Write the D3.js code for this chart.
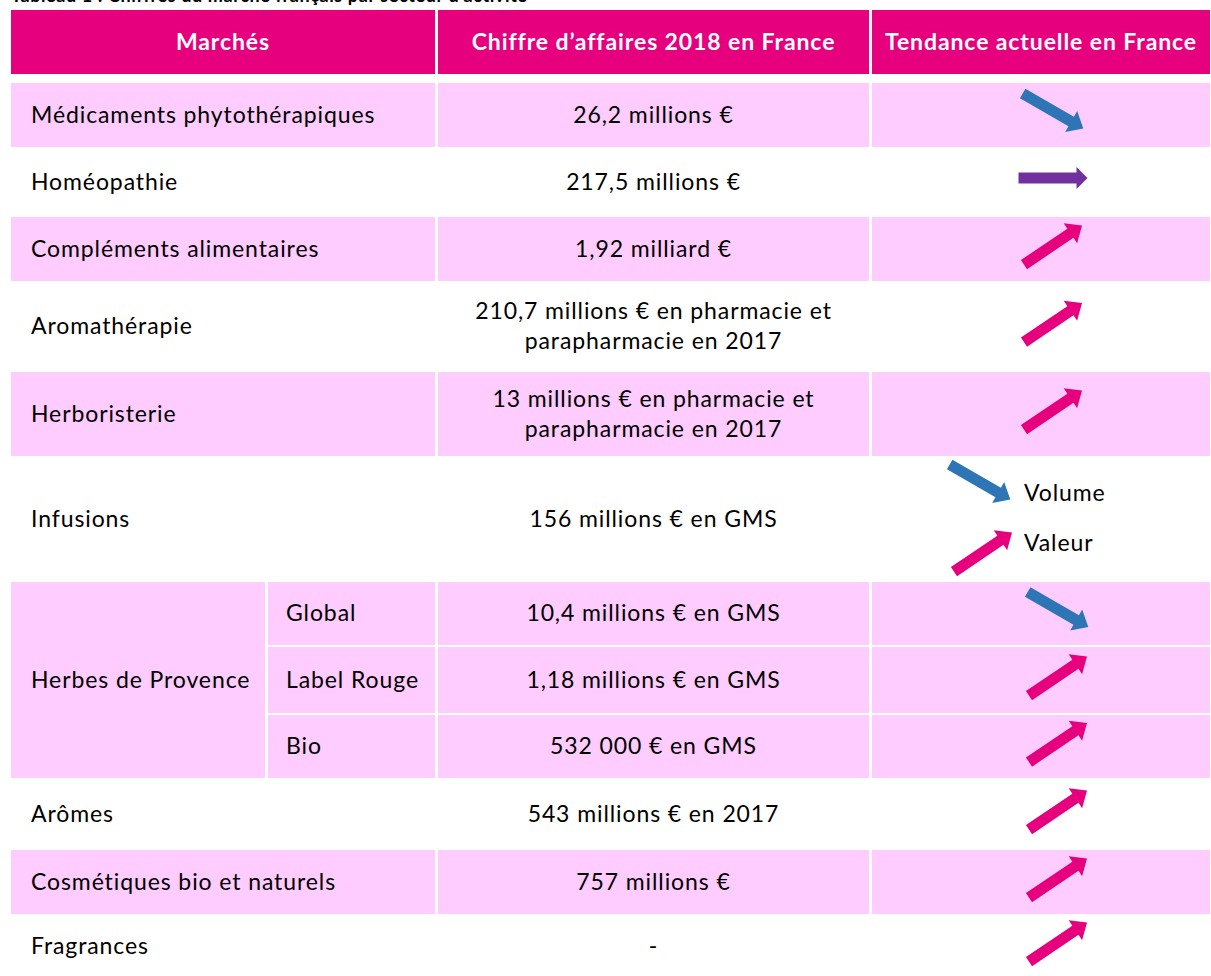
<!DOCTYPE html>
<html>
<head>
<meta charset="utf-8">
<script src="https://cdn.jsdelivr.net/npm/d3@7"></script>
<style>
  body { margin: 0; background: #fff; }
  svg { display: block; }
</style>
</head>
<body>
<script>
var entetes = ["Marchés", "Chiffre d’affaires 2018 en France", "Tendance actuelle en France"];

var marches = [
    "Médicaments phytothérapiques", "Homéopathie", "Compléments alimentaires",
    "Aromathérapie", "Herboristerie", "Infusions",
    "Herbes de Provence", "Herbes de Provence", "Herbes de Provence",
    "Arômes", "Cosmétiques bio et naturels", "Fragrances"
];

var sousMarches = [null, null, null, null, null, null, "Global", "Label Rouge", "Bio", null, null, null];

var chiffres = [
    "26,2 millions €", "217,5 millions €", "1,92 milliard €",
    "210,7 millions € en pharmacie et|parapharmacie en 2017",
    "13 millions € en pharmacie et|parapharmacie en 2017",
    "156 millions € en GMS",
    "10,4 millions € en GMS", "1,18 millions € en GMS", "532 000 € en GMS",
    "543 millions € en 2017", "757 millions €", "-"
];

// baisse / stable / hausse ; Infusions : volume en baisse, valeur en hausse
var tendances = ["baisse", "stable", "hausse", "hausse", "hausse", "volume-valeur",
    "baisse", "hausse", "hausse", "hausse", "hausse", "hausse"];

var titre = "Tableau 1 : Chiffres du marché français par secteur d’activité";

// --- mise en page ---
var W = 1211, H = 976;
var font = "Lato, 'Open Sans', sans-serif";
var rose = "#E6007E", roseClair = "#FFCCFF";
var couleurs = { baisse: "#2E75B6", stable: "#7030A0", hausse: "#E6007E" };
var bandes = [1, 0, 1, 0, 1, 0, 1, 1, 1, 0, 1, 0];

var colX = d3.scaleOrdinal()
    .domain(["marche", "sous", "chiffre", "tendance", "fin"])
    .range([11, 268, 438, 872, 1211]);

var rowY = d3.scaleOrdinal()
    .domain(d3.range(13))
    .range([83, 149, 217, 283, 372, 458, 582, 647, 715, 780, 850, 916, 978]);

var gap = 3, fs = 23, ls = 0.9, cap = 15.6;

var svg = d3.select("body").append("svg")
    .attr("width", W).attr("height", H)
    .style("font-family", font);

// titre (coupé par le bord haut, comme sur l'original)
svg.append("text")
    .attr("x", 11).attr("y", 2)
    .attr("font-size", 18).attr("font-weight", "bold")
    .attr("letter-spacing", 0.6)
    .attr("fill", "#000")
    .text(titre);

// en-tête
var hdrCols = [["marche", "chiffre"], ["chiffre", "tendance"], ["tendance", "fin"]];
var hdr = svg.append("g");
hdrCols.forEach(function (c, i) {
    var x0 = colX(c[0]), x1 = colX(c[1]) - (c[1] === "fin" ? 1 : gap);
    hdr.append("rect")
        .attr("x", x0).attr("y", 10)
        .attr("width", x1 - x0).attr("height", 64)
        .attr("fill", rose);
    hdr.append("text")
        .attr("x", (x0 + x1) / 2).attr("y", 42 + cap / 2)
        .attr("text-anchor", "middle")
        .attr("font-size", fs).attr("font-weight", "bold")
        .attr("letter-spacing", ls)
        .attr("fill", "#fff")
        .text(entetes[i]);
});

// cellules
var body = svg.append("g");

function cell(x0, x1, y0, y1, shaded) {
    if (!shaded) return;
    body.append("rect")
        .attr("x", x0).attr("y", y0)
        .attr("width", x1 - x0).attr("height", y1 - y0)
        .attr("fill", roseClair);
}

function label(txt, x, cy, anchor) {
    var lines = txt.split("|");
    var lh = 30;
    lines.forEach(function (l, k) {
        body.append("text")
            .attr("x", x)
            .attr("y", cy + (k - (lines.length - 1) / 2) * lh + cap / 2)
            .attr("text-anchor", anchor)
            .attr("font-size", fs)
            .attr("letter-spacing", ls)
            .attr("fill", "#000")
            .text(l);
    });
}

function arrowPath(type) {
    // flèche pleine, centrée sur l'origine, pointant vers la droite
    var L = 70, bw = 11, hw = 24, hl = 14;
    if (type === "stable") { L = 69; hw = 22; hl = 11; }
    var a = -L / 2, b = L / 2 - hl, c = L / 2;
    return d3.line()([[a, -bw / 2], [b, -bw / 2], [b, -hw / 2], [c, 0],
        [b, hw / 2], [b, bw / 2], [a, bw / 2]]) + "Z";
}
var angles = { baisse: 30, stable: 0, hausse: -34 };

function arrow(type, cx, cy) {
    body.append("path")
        .attr("d", arrowPath(type))
        .attr("transform", "translate(" + cx + "," + cy + ") rotate(" + angles[type] + ")")
        .attr("fill", couleurs[type]);
}

marches.forEach(function (m, i) {
    var y0 = rowY(i), y1 = rowY(i + 1) - 2, cy = (y0 + y1) / 2;
    var sh = bandes[i];

    if (sousMarches[i] === null) {
        cell(colX("marche"), colX("chiffre") - gap, y0, y1, sh);
        label(m, colX("marche") + 20, cy, "start");
    } else {
        if (i === 0 || marches[i - 1] !== m) {
            var n = marches.filter(function (v, j) { return v === m && sousMarches[j] !== null; }).length;
            var yEnd = rowY(i + n) - 2;
            cell(colX("marche"), colX("sous") - gap, y0, yEnd, sh);
            label(m, colX("marche") + 20, (y0 + yEnd) / 2, "start");
        }
        cell(colX("sous"), colX("chiffre") - gap, y0, y1, sh);
        label(sousMarches[i], colX("sous") + 18, cy, "start");
    }

    cell(colX("chiffre"), colX("tendance") - gap, y0, y1, sh);
    label(chiffres[i], (colX("chiffre") + colX("tendance") - gap) / 2, cy, "middle");

    cell(colX("tendance"), colX("fin") - 1, y0, y1, sh);
    var t = tendances[i];
    if (t === "volume-valeur") {
        var ax = colX("tendance") + 108;
        arrow("baisse", ax, cy - 37);
        arrow("hausse", ax + 3, cy + 33);
        label("Volume", colX("tendance") + 152, cy - 26, "start");
        label("Valeur", colX("tendance") + 152, cy + 24, "start");
    } else {
        var off = i < 5 ? 181 : 186;
        arrow(t, colX("tendance") + off, cy - 4);
    }
});
</script>
</body>
</html>
